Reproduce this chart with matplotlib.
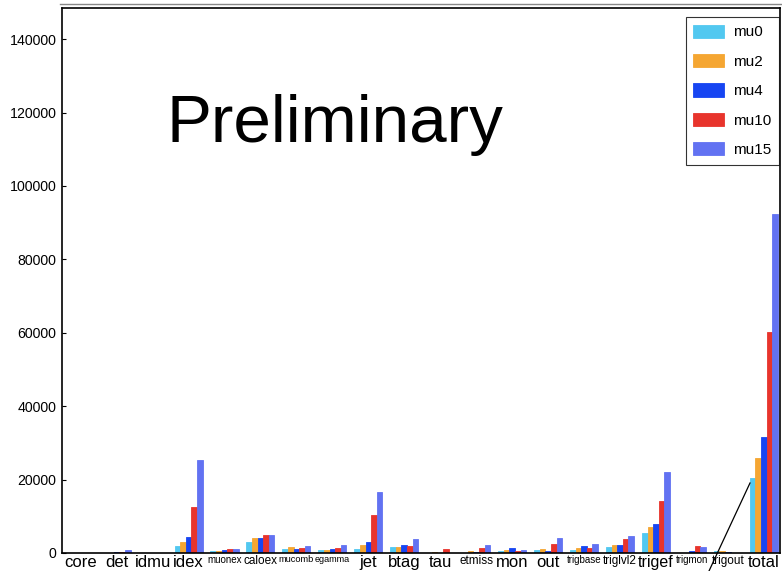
import numpy as np
import matplotlib
matplotlib.use("Agg")
import matplotlib.pyplot as plt
from matplotlib.lines import Line2D

categories = ["core", "det", "idmu", "idex", "muonex", "caloex", "mucomb", "egamma",
              "jet", "btag", "tau", "etmiss", "mon", "out", "trigbase", "triglvl2",
              "trigef", "trigmon", "trigout", "total"]

series_names = ["mu0", "mu2", "mu4", "mu10", "mu15"]
mu0 = [0, 0, 0, 2000, 500, 3100, 1000, 800, 1000, 1700, 0, 100, 500, 900, 900, 1700, 5500, 0, 600, 20300]
mu2 = [0, 100, 0, 3100, 500, 4000, 1500, 800, 2100, 1500, 200, 500, 800, 1200, 1400, 2300, 7200, 0, 500, 26000]
mu4 = [0, 300, 0, 4400, 800, 4000, 1100, 1200, 3100, 2300, 0, 200, 1400, 600, 2000, 2300, 7900, 500, 400, 31700]
mu10 = [0, 300, 0, 12600, 1200, 4900, 1400, 1400, 10400, 1900, 1200, 1400, 600, 2500, 1400, 3900, 14200, 2000, 100, 60300]
mu15 = [0, 900, 0, 25300, 1200, 4900, 2000, 2300, 16700, 3900, 0, 2300, 900, 4000, 2500, 4700, 22100, 1600, 100, 92500]
colors = ["#52c8f0", "#f5a632", "#1745f2", "#e8342c", "#6272f2"]

# the long names were shrunk to fit under their group in the original
label_sizes = [12, 12, 12, 12, 7, 8.5, 6.7, 6.5, 12, 12, 12, 8.5, 12, 12, 7, 8.5, 11.5, 7, 8.5, 12]

FONT = ["Liberation Sans", "DejaVu Sans"]

fig = plt.figure(figsize=(7.82, 5.71), dpi=100)
ax = fig.add_axes([62 / 782, 1 - 553 / 571, (780 - 62) / 782, (553 - 8) / 571])

x = np.arange(len(categories))
w = 0.156
for i, (name, vals) in enumerate(zip(series_names, [mu0, mu2, mu4, mu10, mu15])):
    ax.bar(x + (i - 2) * w, vals, w, color=colors[i], edgecolor=colors[i],
           linewidth=0.6, label=name)

ax.set_xlim(-0.52, 19.45)
ax.set_ylim(0, 148500)
ax.set_yticks(np.arange(0, 140001, 20000))
ax.tick_params(axis="y", direction="in", length=3, labelsize=10.2, pad=4)
for lab in ax.get_yticklabels():
    lab.set_family(FONT)
ax.set_xticks(x)
ax.set_xticklabels([])
ax.tick_params(axis="x", length=0)
for sp in ax.spines.values():
    sp.set_linewidth(1.2)

for i, (name, fs) in enumerate(zip(categories, label_sizes)):
    ax.text(x[i], -0.004, name, transform=ax.get_xaxis_transform(),
            ha="center", va="top", family=FONT, fontsize=fs)

leg = ax.legend(loc="upper right", bbox_to_anchor=(0.9986, 0.9835), borderaxespad=0,
                frameon=True, fancybox=False, edgecolor="black",
                handlelength=2.0, handleheight=0.95, handletextpad=0.6,
                borderpad=0.5, labelspacing=0.95,
                prop={"family": FONT, "size": 11})
leg.get_frame().set_linewidth(0.8)

fig.text(335 / 782, 1 - 142 / 571, "Preliminary", fontsize=48.5,
         ha="center", va="baseline", family=FONT)

# annotation stroke and top border remnant
fig.add_artist(Line2D([709 / 782, 750 / 782], [0, 1 - 483 / 571],
                      color="black", linewidth=0.9, transform=fig.transFigure))
fig.add_artist(Line2D([60 / 782, 1], [1 - 4 / 571, 1 - 4 / 571],
                      color="#888888", linewidth=1.0, transform=fig.transFigure))

fig.savefig("out.png", dpi=100)
